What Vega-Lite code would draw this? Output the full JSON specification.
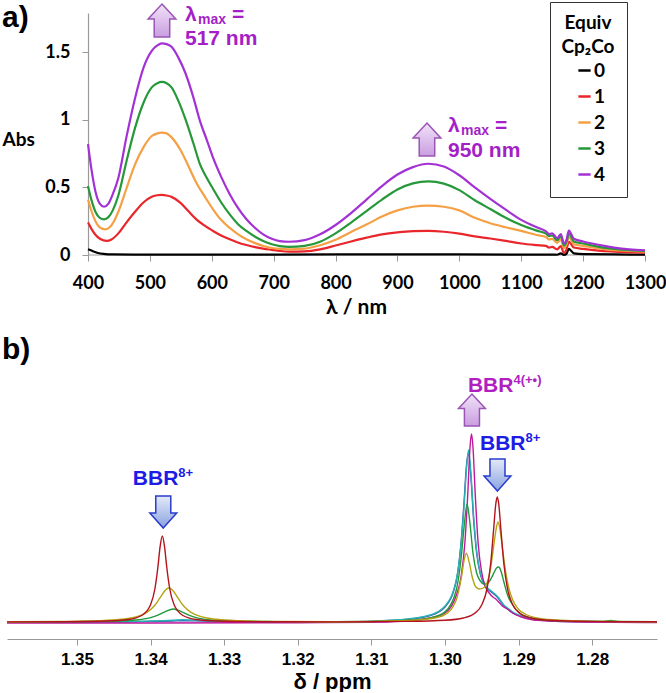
{
 "$schema": "https://vega.github.io/schema/vega-lite/v6.json",
 "background": "white",
 "padding": {"left": 2, "top": 1, "right": 0, "bottom": 0},
 "config": {"view": {"stroke": null}, "axis": {"grid": false}},
 "spacing": 18,
 "resolve": {"scale": {"color": "independent", "x": "independent", "y": "independent"}},
 "vconcat": [
  {
   "width": 638, "height": 242,
   "title": {"text": "a)", "anchor": "start", "frame": "group", "font": "Liberation Sans", "fontSize": 30, "fontWeight": "bold", "color": "black", "offset": 0, "dx": -5, "dy": 32},
   "layer": [
    {
     "data": {"values": [{"nm": 400, "nm2": 1300, "a": 0}]},
     "mark": {"type": "rule", "color": "#999", "strokeWidth": 1.2},
     "encoding": {"x": {"field": "nm", "type": "quantitative"}, "x2": {"field": "nm2"}, "y": {"field": "a", "type": "quantitative"}}
    },
    {
     "data": {"values": [
      {"e":"0","nm":400,"a":0.042},{"e":"0","nm":408,"a":0.028},{"e":"0","nm":416,"a":0.015},{"e":"0","nm":425,"a":0.008},{"e":"0","nm":440,"a":0.004},{"e":"0","nm":500,"a":0.003},{"e":"0","nm":600,"a":0.003},{"e":"0","nm":700,"a":0.003},{"e":"0","nm":800,"a":0.004},{"e":"0","nm":900,"a":0.005},{"e":"0","nm":1000,"a":0.004},{"e":"0","nm":1100,"a":0.003},{"e":"0","nm":1150,"a":0.003},{"e":"0","nm":1158,"a":0.002},{"e":"0","nm":1164,"a":0.012},{"e":"0","nm":1169,"a":0.0},{"e":"0","nm":1173,"a":0.008},{"e":"0","nm":1177,"a":0.045},{"e":"0","nm":1185,"a":0.012},{"e":"0","nm":1200,"a":0.006},{"e":"0","nm":1250,"a":0.004},{"e":"0","nm":1300,"a":0.003},
      {"e":"1","nm":400,"a":0.24},{"e":"1","nm":406,"a":0.19},{"e":"1","nm":412,"a":0.15},{"e":"1","nm":420,"a":0.118},{"e":"1","nm":430,"a":0.104},{"e":"1","nm":438,"a":0.115},{"e":"1","nm":449,"a":0.16},{"e":"1","nm":462,"a":0.24},{"e":"1","nm":476,"a":0.32},{"e":"1","nm":490,"a":0.39},{"e":"1","nm":503,"a":0.43},{"e":"1","nm":512,"a":0.442},{"e":"1","nm":519,"a":0.444},{"e":"1","nm":527,"a":0.44},{"e":"1","nm":535,"a":0.43},{"e":"1","nm":549,"a":0.387},{"e":"1","nm":562,"a":0.325},{"e":"1","nm":575,"a":0.264},{"e":"1","nm":589,"a":0.215},{"e":"1","nm":602,"a":0.178},{"e":"1","nm":615,"a":0.145},{"e":"1","nm":629,"a":0.116},{"e":"1","nm":642,"a":0.093},{"e":"1","nm":656,"a":0.074},{"e":"1","nm":670,"a":0.058},{"e":"1","nm":683,"a":0.047},{"e":"1","nm":697,"a":0.038},{"e":"1","nm":710,"a":0.03},{"e":"1","nm":725,"a":0.025},{"e":"1","nm":750,"a":0.027},{"e":"1","nm":775,"a":0.042},{"e":"1","nm":800,"a":0.07},{"e":"1","nm":825,"a":0.1},{"e":"1","nm":850,"a":0.128},{"e":"1","nm":875,"a":0.152},{"e":"1","nm":900,"a":0.167},{"e":"1","nm":925,"a":0.176},{"e":"1","nm":950,"a":0.178},{"e":"1","nm":975,"a":0.172},{"e":"1","nm":1000,"a":0.158},{"e":"1","nm":1025,"a":0.138},{"e":"1","nm":1050,"a":0.122},{"e":"1","nm":1075,"a":0.104},{"e":"1","nm":1100,"a":0.085},{"e":"1","nm":1125,"a":0.073},{"e":"1","nm":1140,"a":0.067},{"e":"1","nm":1145,"a":0.055},{"e":"1","nm":1150,"a":0.06},{"e":"1","nm":1158,"a":0.042},{"e":"1","nm":1164,"a":0.065},{"e":"1","nm":1169,"a":0.015},{"e":"1","nm":1173,"a":0.04},{"e":"1","nm":1177,"a":0.098},{"e":"1","nm":1185,"a":0.055},{"e":"1","nm":1200,"a":0.045},{"e":"1","nm":1225,"a":0.032},{"e":"1","nm":1250,"a":0.025},{"e":"1","nm":1275,"a":0.02},{"e":"1","nm":1300,"a":0.017},
      {"e":"2","nm":400,"a":0.41},{"e":"2","nm":406,"a":0.32},{"e":"2","nm":412,"a":0.25},{"e":"2","nm":419,"a":0.205},{"e":"2","nm":428,"a":0.19},{"e":"2","nm":435,"a":0.205},{"e":"2","nm":442,"a":0.25},{"e":"2","nm":449,"a":0.32},{"e":"2","nm":462,"a":0.49},{"e":"2","nm":476,"a":0.67},{"e":"2","nm":490,"a":0.8},{"e":"2","nm":503,"a":0.88},{"e":"2","nm":512,"a":0.9},{"e":"2","nm":519,"a":0.905},{"e":"2","nm":527,"a":0.9},{"e":"2","nm":535,"a":0.87},{"e":"2","nm":549,"a":0.78},{"e":"2","nm":562,"a":0.66},{"e":"2","nm":575,"a":0.535},{"e":"2","nm":589,"a":0.43},{"e":"2","nm":602,"a":0.338},{"e":"2","nm":615,"a":0.26},{"e":"2","nm":629,"a":0.2},{"e":"2","nm":642,"a":0.155},{"e":"2","nm":656,"a":0.116},{"e":"2","nm":670,"a":0.088},{"e":"2","nm":683,"a":0.067},{"e":"2","nm":697,"a":0.052},{"e":"2","nm":710,"a":0.045},{"e":"2","nm":725,"a":0.042},{"e":"2","nm":750,"a":0.047},{"e":"2","nm":775,"a":0.072},{"e":"2","nm":800,"a":0.113},{"e":"2","nm":825,"a":0.17},{"e":"2","nm":850,"a":0.225},{"e":"2","nm":875,"a":0.285},{"e":"2","nm":900,"a":0.33},{"e":"2","nm":925,"a":0.357},{"e":"2","nm":950,"a":0.365},{"e":"2","nm":975,"a":0.357},{"e":"2","nm":1000,"a":0.33},{"e":"2","nm":1025,"a":0.275},{"e":"2","nm":1050,"a":0.235},{"e":"2","nm":1075,"a":0.205},{"e":"2","nm":1100,"a":0.178},{"e":"2","nm":1125,"a":0.148},{"e":"2","nm":1140,"a":0.133},{"e":"2","nm":1145,"a":0.115},{"e":"2","nm":1150,"a":0.12},{"e":"2","nm":1158,"a":0.09},{"e":"2","nm":1164,"a":0.115},{"e":"2","nm":1169,"a":0.05},{"e":"2","nm":1173,"a":0.075},{"e":"2","nm":1177,"a":0.133},{"e":"2","nm":1185,"a":0.08},{"e":"2","nm":1200,"a":0.068},{"e":"2","nm":1225,"a":0.048},{"e":"2","nm":1250,"a":0.035},{"e":"2","nm":1275,"a":0.03},{"e":"2","nm":1300,"a":0.025},
      {"e":"3","nm":400,"a":0.51},{"e":"3","nm":406,"a":0.4},{"e":"3","nm":412,"a":0.32},{"e":"3","nm":419,"a":0.275},{"e":"3","nm":426,"a":0.264},{"e":"3","nm":433,"a":0.28},{"e":"3","nm":440,"a":0.33},{"e":"3","nm":449,"a":0.44},{"e":"3","nm":462,"a":0.69},{"e":"3","nm":476,"a":0.94},{"e":"3","nm":490,"a":1.13},{"e":"3","nm":503,"a":1.24},{"e":"3","nm":512,"a":1.27},{"e":"3","nm":519,"a":1.28},{"e":"3","nm":527,"a":1.27},{"e":"3","nm":535,"a":1.24},{"e":"3","nm":546,"a":1.14},{"e":"3","nm":557,"a":1.01},{"e":"3","nm":570,"a":0.83},{"e":"3","nm":581,"a":0.67},{"e":"3","nm":592,"a":0.57},{"e":"3","nm":602,"a":0.49},{"e":"3","nm":615,"a":0.39},{"e":"3","nm":629,"a":0.3},{"e":"3","nm":642,"a":0.23},{"e":"3","nm":656,"a":0.178},{"e":"3","nm":670,"a":0.135},{"e":"3","nm":683,"a":0.104},{"e":"3","nm":697,"a":0.08},{"e":"3","nm":710,"a":0.066},{"e":"3","nm":725,"a":0.06},{"e":"3","nm":750,"a":0.067},{"e":"3","nm":775,"a":0.098},{"e":"3","nm":800,"a":0.16},{"e":"3","nm":825,"a":0.24},{"e":"3","nm":850,"a":0.325},{"e":"3","nm":875,"a":0.41},{"e":"3","nm":900,"a":0.485},{"e":"3","nm":925,"a":0.53},{"e":"3","nm":950,"a":0.545},{"e":"3","nm":975,"a":0.528},{"e":"3","nm":1000,"a":0.48},{"e":"3","nm":1025,"a":0.405},{"e":"3","nm":1050,"a":0.34},{"e":"3","nm":1075,"a":0.275},{"e":"3","nm":1100,"a":0.222},{"e":"3","nm":1125,"a":0.18},{"e":"3","nm":1140,"a":0.158},{"e":"3","nm":1145,"a":0.14},{"e":"3","nm":1150,"a":0.145},{"e":"3","nm":1158,"a":0.11},{"e":"3","nm":1164,"a":0.14},{"e":"3","nm":1169,"a":0.07},{"e":"3","nm":1173,"a":0.095},{"e":"3","nm":1177,"a":0.158},{"e":"3","nm":1185,"a":0.1},{"e":"3","nm":1200,"a":0.085},{"e":"3","nm":1225,"a":0.06},{"e":"3","nm":1250,"a":0.045},{"e":"3","nm":1275,"a":0.035},{"e":"3","nm":1300,"a":0.03},
      {"e":"4","nm":400,"a":0.82},{"e":"4","nm":406,"a":0.62},{"e":"4","nm":412,"a":0.47},{"e":"4","nm":419,"a":0.38},{"e":"4","nm":426,"a":0.357},{"e":"4","nm":433,"a":0.38},{"e":"4","nm":440,"a":0.45},{"e":"4","nm":449,"a":0.57},{"e":"4","nm":462,"a":0.87},{"e":"4","nm":476,"a":1.16},{"e":"4","nm":490,"a":1.39},{"e":"4","nm":503,"a":1.51},{"e":"4","nm":512,"a":1.55},{"e":"4","nm":519,"a":1.565},{"e":"4","nm":527,"a":1.56},{"e":"4","nm":535,"a":1.54},{"e":"4","nm":546,"a":1.46},{"e":"4","nm":557,"a":1.35},{"e":"4","nm":570,"a":1.17},{"e":"4","nm":581,"a":0.99},{"e":"4","nm":592,"a":0.85},{"e":"4","nm":602,"a":0.72},{"e":"4","nm":615,"a":0.58},{"e":"4","nm":629,"a":0.45},{"e":"4","nm":642,"a":0.35},{"e":"4","nm":656,"a":0.264},{"e":"4","nm":670,"a":0.2},{"e":"4","nm":683,"a":0.153},{"e":"4","nm":697,"a":0.12},{"e":"4","nm":710,"a":0.103},{"e":"4","nm":725,"a":0.098},{"e":"4","nm":750,"a":0.11},{"e":"4","nm":775,"a":0.153},{"e":"4","nm":800,"a":0.222},{"e":"4","nm":825,"a":0.31},{"e":"4","nm":850,"a":0.41},{"e":"4","nm":875,"a":0.51},{"e":"4","nm":900,"a":0.595},{"e":"4","nm":925,"a":0.65},{"e":"4","nm":950,"a":0.675},{"e":"4","nm":975,"a":0.655},{"e":"4","nm":1000,"a":0.59},{"e":"4","nm":1025,"a":0.5},{"e":"4","nm":1050,"a":0.415},{"e":"4","nm":1075,"a":0.335},{"e":"4","nm":1100,"a":0.26},{"e":"4","nm":1125,"a":0.205},{"e":"4","nm":1140,"a":0.175},{"e":"4","nm":1145,"a":0.155},{"e":"4","nm":1150,"a":0.16},{"e":"4","nm":1158,"a":0.125},{"e":"4","nm":1164,"a":0.155},{"e":"4","nm":1169,"a":0.085},{"e":"4","nm":1173,"a":0.11},{"e":"4","nm":1177,"a":0.18},{"e":"4","nm":1185,"a":0.12},{"e":"4","nm":1200,"a":0.1},{"e":"4","nm":1225,"a":0.075},{"e":"4","nm":1250,"a":0.055},{"e":"4","nm":1275,"a":0.042},{"e":"4","nm":1300,"a":0.035}
     ]},
     "mark": {"type": "line", "strokeWidth": 2.2, "interpolate": "monotone"},
     "encoding": {
      "x": {"field": "nm", "type": "quantitative", "scale": {"domain": [269.1, 1300], "nice": false, "zero": false},
        "axis": {"values": [400,500,600,700,800,900,1000,1100,1200,1300], "format": "d", "domain": false, "title": "λ / nm", "titleFont": "Lato", "titleFontSize": 21, "titleFontWeight": "bold", "titleColor": "black", "titlePadding": 4, "titleX": 349, "labelFont": "Lato", "labelFontSize": 18, "labelFontWeight": "bold", "labelColor": "black", "labelPadding": 13, "labelFlush": false, "labelOverlap": false, "tickSize": 6, "tickColor": "#999"}},
      "y": {"field": "a", "type": "quantitative", "scale": {"domain": [0, 1.79], "nice": false},
        "axis": {"values": [0, 0.5, 1, 1.5], "format": "~g", "offset": -81, "title": "Abs", "titleAngle": 0, "titleAlign": "left", "titleBaseline": "middle", "titleX": -86, "titleY": 126, "titleFont": "Lato", "titleFontSize": 19, "titleFontWeight": "bold", "titleColor": "black", "labelFont": "Lato", "labelFontSize": 18, "labelFontWeight": "bold", "labelColor": "black", "labelPadding": 12, "tickSize": 6, "tickColor": "#999", "domainColor": "#999", "domainWidth": 1.2}},
      "color": {"field": "e", "type": "nominal", "scale": {"domain": ["0","1","2","3","4"], "range": ["#000000","#e8262b","#f5a045","#27983a","#a332d4"]},
        "legend": {"orient": "none", "legendX": 543, "legendY": -11, "title": ["Equiv", "Cp₂Co"], "titleFont": "Lato", "titleFontSize": 19, "titleFontWeight": "bold", "titleColor": "black", "titleAlign": "center", "titleAnchor": "middle", "titleLineHeight": 24, "titlePadding": 4, "labelFont": "Lato", "labelFontSize": 19, "labelFontWeight": "bold", "labelColor": "black", "labelOffset": 0, "symbolType": "stroke", "symbolSize": 150, "symbolStrokeWidth": 2.5, "rowPadding": 6, "padding": 12, "strokeColor": "#333", "symbolOffset": 5}}
     }
    },
    {
     "data": {"values": [{"nm": 519.5, "a": 1.734}, {"nm": 947.7, "a": 0.854}]},
     "mark": {"type": "point", "filled": true, "shape": "M0,-1 L0.84,-0.1 L0.47,-0.1 L0.47,1 L-0.47,1 L-0.47,-0.1 L-0.84,-0.1 Z", "size": 1089, "opacity": 1, "stroke": "#9a55b5", "strokeWidth": 1.5,
       "fill": {"gradient": "linear", "x1": 0, "y1": 0, "x2": 0, "y2": 1, "stops": [{"offset": 0, "color": "#f1e2f8"}, {"offset": 1, "color": "#c99ee0"}]}},
     "encoding": {"x": {"field": "nm", "type": "quantitative"}, "y": {"field": "a", "type": "quantitative"}}
    },
    {
     "data": {"values": [{"nm": 556.7, "a": 1.775, "t": "λ"}, {"nm": 981.6, "a": 0.954, "t": "λ"}]},
     "mark": {"type": "text", "align": "left", "baseline": "middle", "font": "Liberation Sans", "fontSize": 21, "fontWeight": "bold", "color": "#a41fc7"},
     "encoding": {"x": {"field": "nm", "type": "quantitative"}, "y": {"field": "a", "type": "quantitative"}, "text": {"field": "t"}}
    },
    {
     "data": {"values": [{"nm": 556.7, "a": 1.775, "t": "max"}, {"nm": 981.6, "a": 0.954, "t": "max"}]},
     "mark": {"type": "text", "align": "left", "baseline": "middle", "dx": 13, "dy": 5, "font": "Liberation Sans", "fontSize": 14, "fontWeight": "bold", "color": "#a41fc7"},
     "encoding": {"x": {"field": "nm", "type": "quantitative"}, "y": {"field": "a", "type": "quantitative"}, "text": {"field": "t"}}
    },
    {
     "data": {"values": [{"nm": 556.7, "a": 1.775, "t": "="}, {"nm": 981.6, "a": 0.954, "t": "="}]},
     "mark": {"type": "text", "align": "left", "baseline": "middle", "dx": 47, "font": "Liberation Sans", "fontSize": 21, "fontWeight": "bold", "color": "#a41fc7"},
     "encoding": {"x": {"field": "nm", "type": "quantitative"}, "y": {"field": "a", "type": "quantitative"}, "text": {"field": "t"}}
    },
    {
     "data": {"values": [{"nm": 556.7, "a": 1.598, "t": "517 nm"}, {"nm": 981.6, "a": 0.769, "t": "950 nm"}]},
     "mark": {"type": "text", "align": "left", "baseline": "middle", "font": "Liberation Sans", "fontSize": 21, "fontWeight": "bold", "color": "#a41fc7"},
     "encoding": {"x": {"field": "nm", "type": "quantitative"}, "y": {"field": "a", "type": "quantitative"}, "text": {"field": "t"}}
    }
   ]
  },
  {
   "width": 650, "height": 250,
   "title": {"text": "b)", "anchor": "start", "frame": "group", "font": "Liberation Sans", "fontSize": 30, "fontWeight": "bold", "color": "black", "offset": 9, "dx": -5},
   "layer": [
    {
     "data": {"values": [
      {"s":"b","p":1.3595,"v":0.6},{"s":"b","p":1.345,"v":0.9},{"s":"b","p":1.34,"v":1.5},{"s":"b","p":1.337,"v":2.0},{"s":"b","p":1.3355,"v":2.3},{"s":"b","p":1.334,"v":2.1},{"s":"b","p":1.331,"v":1.5},{"s":"b","p":1.325,"v":1.0},{"s":"b","p":1.315,"v":0.9},{"s":"b","p":1.306,"v":3.0},{"s":"b","p":1.302,"v":7.5},{"s":"b","p":1.3,"v":16},{"s":"b","p":1.2985,"v":41},{"s":"b","p":1.2978,"v":82},{"s":"b","p":1.2974,"v":122},{"s":"b","p":1.2971,"v":156},{"s":"b","p":1.2968,"v":170},{"s":"b","p":1.2965,"v":148},{"s":"b","p":1.2961,"v":102},{"s":"b","p":1.2957,"v":70},{"s":"b","p":1.2952,"v":49},{"s":"b","p":1.2947,"v":39},{"s":"b","p":1.2942,"v":34},{"s":"b","p":1.2937,"v":31},{"s":"b","p":1.2932,"v":28},{"s":"b","p":1.2928,"v":25},{"s":"b","p":1.2924,"v":21},{"s":"b","p":1.292,"v":17},{"s":"b","p":1.2915,"v":14},{"s":"b","p":1.2908,"v":10},{"s":"b","p":1.2898,"v":7},{"s":"b","p":1.2883,"v":4},{"s":"b","p":1.286,"v":2.3},{"s":"b","p":1.281,"v":1.2},{"s":"b","p":1.2712,"v":0.8},
      {"s":"t","p":1.3595,"v":1.0},{"s":"t","p":1.345,"v":1.3},{"s":"t","p":1.34,"v":2.0},{"s":"t","p":1.337,"v":2.8},{"s":"t","p":1.3357,"v":3.3},{"s":"t","p":1.334,"v":2.9},{"s":"t","p":1.331,"v":2.0},{"s":"t","p":1.325,"v":1.4},{"s":"t","p":1.315,"v":1.2},{"s":"t","p":1.306,"v":3.4},{"s":"t","p":1.302,"v":8},{"s":"t","p":1.3,"v":17},{"s":"t","p":1.2985,"v":42},{"s":"t","p":1.2978,"v":80},{"s":"t","p":1.2974,"v":118},{"s":"t","p":1.2971,"v":152},{"s":"t","p":1.2968,"v":173},{"s":"t","p":1.2965,"v":152},{"s":"t","p":1.2961,"v":106},{"s":"t","p":1.2957,"v":72},{"s":"t","p":1.2952,"v":50},{"s":"t","p":1.2947,"v":40},{"s":"t","p":1.2942,"v":35},{"s":"t","p":1.2937,"v":32},{"s":"t","p":1.2932,"v":29},{"s":"t","p":1.2928,"v":26},{"s":"t","p":1.2924,"v":22},{"s":"t","p":1.292,"v":18},{"s":"t","p":1.2915,"v":15},{"s":"t","p":1.2908,"v":11},{"s":"t","p":1.2898,"v":7.5},{"s":"t","p":1.2883,"v":4.5},{"s":"t","p":1.286,"v":2.6},{"s":"t","p":1.281,"v":1.5},{"s":"t","p":1.2712,"v":1.1},
      {"s":"m","p":1.3595,"v":0},{"s":"m","p":1.34,"v":0},{"s":"m","p":1.32,"v":0.3},{"s":"m","p":1.31,"v":0.8},{"s":"m","p":1.306,"v":1.8},{"s":"m","p":1.302,"v":5},{"s":"m","p":1.3,"v":10},{"s":"m","p":1.2985,"v":27},{"s":"m","p":1.2978,"v":47},{"s":"m","p":1.2973,"v":80},{"s":"m","p":1.2969,"v":130},{"s":"m","p":1.2966,"v":176},{"s":"m","p":1.2964,"v":189},{"s":"m","p":1.2962,"v":176},{"s":"m","p":1.2959,"v":130},{"s":"m","p":1.2955,"v":80},{"s":"m","p":1.295,"v":50},{"s":"m","p":1.2945,"v":36},{"s":"m","p":1.294,"v":30},{"s":"m","p":1.2935,"v":26},{"s":"m","p":1.2931,"v":24},{"s":"m","p":1.2927,"v":21},{"s":"m","p":1.2922,"v":17},{"s":"m","p":1.2915,"v":14},{"s":"m","p":1.2908,"v":10},{"s":"m","p":1.2898,"v":6.5},{"s":"m","p":1.2883,"v":3.5},{"s":"m","p":1.286,"v":2},{"s":"m","p":1.281,"v":1},{"s":"m","p":1.2712,"v":0.5},
      {"s":"g","p":1.3595,"v":1.1},{"s":"g","p":1.35,"v":1.4},{"s":"g","p":1.345,"v":1.9},{"s":"g","p":1.342,"v":3.0},{"s":"g","p":1.34,"v":5.4},{"s":"g","p":1.339,"v":7.8},{"s":"g","p":1.338,"v":11.4},{"s":"g","p":1.3369,"v":14},{"s":"g","p":1.3358,"v":11.4},{"s":"g","p":1.3348,"v":7.8},{"s":"g","p":1.3338,"v":5.4},{"s":"g","p":1.3318,"v":3.0},{"s":"g","p":1.3288,"v":1.9},{"s":"g","p":1.323,"v":1.4},{"s":"g","p":1.315,"v":1.15},{"s":"g","p":1.306,"v":2.4},{"s":"g","p":1.302,"v":5.1},{"s":"g","p":1.3,"v":11.1},{"s":"g","p":1.2985,"v":32},{"s":"g","p":1.2978,"v":65.5},{"s":"g","p":1.2974,"v":96.6},{"s":"g","p":1.297,"v":119},{"s":"g","p":1.2966,"v":99},{"s":"g","p":1.2962,"v":70},{"s":"g","p":1.2957,"v":50},{"s":"g","p":1.2952,"v":42},{"s":"g","p":1.2947,"v":39},{"s":"g","p":1.2942,"v":40},{"s":"g","p":1.2937,"v":45},{"s":"g","p":1.2933,"v":51},{"s":"g","p":1.293,"v":55},{"s":"g","p":1.2927,"v":56},{"s":"g","p":1.2924,"v":52},{"s":"g","p":1.292,"v":41},{"s":"g","p":1.2915,"v":28},{"s":"g","p":1.2908,"v":18},{"s":"g","p":1.2898,"v":9.5},{"s":"g","p":1.2883,"v":5},{"s":"g","p":1.286,"v":2.8},{"s":"g","p":1.282,"v":1.8},{"s":"g","p":1.2785,"v":1.6},{"s":"g","p":1.2775,"v":2.6},{"s":"g","p":1.2765,"v":1.6},{"s":"g","p":1.2712,"v":1.3},
      {"s":"o","p":1.3595,"v":1.25},{"s":"o","p":1.352,"v":1.6},{"s":"o","p":1.347,"v":2.3},{"s":"o","p":1.344,"v":3.7},{"s":"o","p":1.342,"v":6.1},{"s":"o","p":1.3405,"v":10.7},{"s":"o","p":1.3395,"v":17},{"s":"o","p":1.3387,"v":25.3},{"s":"o","p":1.338,"v":32.8},{"s":"o","p":1.3375,"v":35},{"s":"o","p":1.337,"v":32.8},{"s":"o","p":1.3363,"v":25.3},{"s":"o","p":1.3355,"v":17},{"s":"o","p":1.3345,"v":10.7},{"s":"o","p":1.333,"v":6.1},{"s":"o","p":1.331,"v":3.7},{"s":"o","p":1.328,"v":2.3},{"s":"o","p":1.323,"v":1.6},{"s":"o","p":1.315,"v":1.25},{"s":"o","p":1.306,"v":2.2},{"s":"o","p":1.302,"v":4.2},{"s":"o","p":1.3,"v":8.4},{"s":"o","p":1.2985,"v":22.6},{"s":"o","p":1.2978,"v":44.5},{"s":"o","p":1.2974,"v":62.9},{"s":"o","p":1.2971,"v":69.9},{"s":"o","p":1.2967,"v":60.3},{"s":"o","p":1.2963,"v":46},{"s":"o","p":1.2958,"v":36},{"s":"o","p":1.2953,"v":34},{"s":"o","p":1.2948,"v":35},{"s":"o","p":1.2943,"v":40},{"s":"o","p":1.2938,"v":55},{"s":"o","p":1.2934,"v":76},{"s":"o","p":1.2931,"v":92},{"s":"o","p":1.2928,"v":101},{"s":"o","p":1.2925,"v":92},{"s":"o","p":1.2922,"v":75},{"s":"o","p":1.2918,"v":53},{"s":"o","p":1.2913,"v":34},{"s":"o","p":1.2908,"v":23},{"s":"o","p":1.29,"v":13.5},{"s":"o","p":1.289,"v":8.5},{"s":"o","p":1.2875,"v":5},{"s":"o","p":1.285,"v":3},{"s":"o","p":1.281,"v":1.9},{"s":"o","p":1.276,"v":1.4},{"s":"o","p":1.2712,"v":1.25},
      {"s":"r","p":1.3595,"v":1.1},{"s":"r","p":1.352,"v":1.3},{"s":"r","p":1.346,"v":2.0},{"s":"r","p":1.343,"v":3.5},{"s":"r","p":1.3412,"v":7.5},{"s":"r","p":1.34,"v":18.2},{"s":"r","p":1.3394,"v":34.5},{"s":"r","p":1.339,"v":56},{"s":"r","p":1.3387,"v":76.4},{"s":"r","p":1.3384,"v":87},{"s":"r","p":1.3381,"v":76.4},{"s":"r","p":1.3378,"v":56},{"s":"r","p":1.3374,"v":34.5},{"s":"r","p":1.3368,"v":18.2},{"s":"r","p":1.3356,"v":7.5},{"s":"r","p":1.3338,"v":3.5},{"s":"r","p":1.3308,"v":2.0},{"s":"r","p":1.325,"v":1.3},{"s":"r","p":1.315,"v":1.1},{"s":"r","p":1.305,"v":1.6},{"s":"r","p":1.3,"v":2.7},{"s":"r","p":1.2975,"v":5.0},{"s":"r","p":1.296,"v":9.5},{"s":"r","p":1.295,"v":18.3},{"s":"r","p":1.2943,"v":34},{"s":"r","p":1.2938,"v":59},{"s":"r","p":1.2934,"v":93},{"s":"r","p":1.2931,"v":119},{"s":"r","p":1.2929,"v":126},{"s":"r","p":1.2927,"v":119},{"s":"r","p":1.2924,"v":93},{"s":"r","p":1.292,"v":59},{"s":"r","p":1.2915,"v":34},{"s":"r","p":1.2908,"v":18.3},{"s":"r","p":1.2898,"v":9.5},{"s":"r","p":1.2883,"v":5.0},{"s":"r","p":1.2858,"v":2.7},{"s":"r","p":1.282,"v":1.7},{"s":"r","p":1.277,"v":1.35},{"s":"r","p":1.2712,"v":1.2}
     ]},
     "mark": {"type": "line", "strokeWidth": 1.4, "interpolate": "monotone"},
     "encoding": {
      "x": {"field": "p", "type": "quantitative", "scale": {"domain": [1.2712, 1.3595], "reverse": true, "nice": false, "zero": false},
        "axis": {"values": [1.28, 1.29, 1.30, 1.31, 1.32, 1.33, 1.34, 1.35], "format": ".2f", "title": "δ / ppm", "titleFont": "Liberation Sans", "titleFontSize": 22, "titleFontWeight": "bold", "titleColor": "black", "titlePadding": 4, "labelFont": "Liberation Sans", "labelFontSize": 17, "labelFontWeight": "bold", "labelColor": "black", "labelPadding": 6, "labelFlush": false, "labelOverlap": false, "tickSize": 6, "tickColor": "#999", "domainColor": "#999", "domainWidth": 1.2}},
      "y": {"field": "v", "type": "quantitative", "scale": {"domain": [-16, 234], "nice": false, "zero": false}, "axis": null},
      "color": {"field": "s", "type": "nominal", "scale": {"domain": ["b","t","m","g","o","r"], "range": ["#3c50b4","#2ab3b3","#c0189b","#1f9a3a","#b5a314","#b3141c"]}, "legend": null}
     }
    },
    {
     "data": {"values": [{"p": 1.33827, "v": 111}, {"p": 1.29287, "v": 148}]},
     "mark": {"type": "point", "filled": true, "shape": "M0,1 L0.84,0.06 L0.47,0.06 L0.47,-1 L-0.47,-1 L-0.47,0.06 L-0.84,0.06 Z", "size": 1024, "opacity": 1, "stroke": "#2a3ccc", "strokeWidth": 1.5,
       "fill": {"gradient": "linear", "x1": 0, "y1": 0, "x2": 0, "y2": 1, "stops": [{"offset": 0, "color": "#e3e9f8"}, {"offset": 1, "color": "#8aa3e0"}]}},
     "encoding": {"x": {"field": "p", "type": "quantitative"}, "y": {"field": "v", "type": "quantitative"}}
    },
    {
     "data": {"values": [{"p": 1.29634, "v": 213}]},
     "mark": {"type": "point", "filled": true, "shape": "M0,-1 L0.84,-0.1 L0.47,-0.1 L0.47,1 L-0.47,1 L-0.47,-0.1 L-0.84,-0.1 Z", "size": 1024, "opacity": 1, "stroke": "#9a55b5", "strokeWidth": 1.5,
       "fill": {"gradient": "linear", "x1": 0, "y1": 0, "x2": 0, "y2": 1, "stops": [{"offset": 0, "color": "#f1e2f8"}, {"offset": 1, "color": "#c99ee0"}]}},
     "encoding": {"x": {"field": "p", "type": "quantitative"}, "y": {"field": "v", "type": "quantitative"}}
    },
    {
     "data": {"values": [{"p": 1.33623, "v": 144, "t": "BBR"}, {"p": 1.28906, "v": 179, "t": "BBR"}]},
     "mark": {"type": "text", "align": "right", "baseline": "middle", "font": "Liberation Sans", "fontSize": 21, "fontWeight": "bold", "color": "#1c1ce6"},
     "encoding": {"x": {"field": "p", "type": "quantitative"}, "y": {"field": "v", "type": "quantitative"}, "text": {"field": "t"}}
    },
    {
     "data": {"values": [{"p": 1.33623, "v": 144, "t": "8+"}, {"p": 1.28906, "v": 179, "t": "8+"}]},
     "mark": {"type": "text", "align": "left", "baseline": "middle", "dy": -6, "font": "Liberation Sans", "fontSize": 13, "fontWeight": "bold", "color": "#1c1ce6"},
     "encoding": {"x": {"field": "p", "type": "quantitative"}, "y": {"field": "v", "type": "quantitative"}, "text": {"field": "t"}}
    },
    {
     "data": {"values": [{"p": 1.2907, "v": 237, "t": "BBR"}]},
     "mark": {"type": "text", "align": "right", "baseline": "middle", "font": "Liberation Sans", "fontSize": 21, "fontWeight": "bold", "color": "#b01fc0"},
     "encoding": {"x": {"field": "p", "type": "quantitative"}, "y": {"field": "v", "type": "quantitative"}, "text": {"field": "t"}}
    },
    {
     "data": {"values": [{"p": 1.2907, "v": 237, "t": "4(+•)"}]},
     "mark": {"type": "text", "align": "left", "baseline": "middle", "dy": -6, "font": "Liberation Sans", "fontSize": 13, "fontWeight": "bold", "color": "#b01fc0"},
     "encoding": {"x": {"field": "p", "type": "quantitative"}, "y": {"field": "v", "type": "quantitative"}, "text": {"field": "t"}}
    }
   ]
  }
 ]
}
